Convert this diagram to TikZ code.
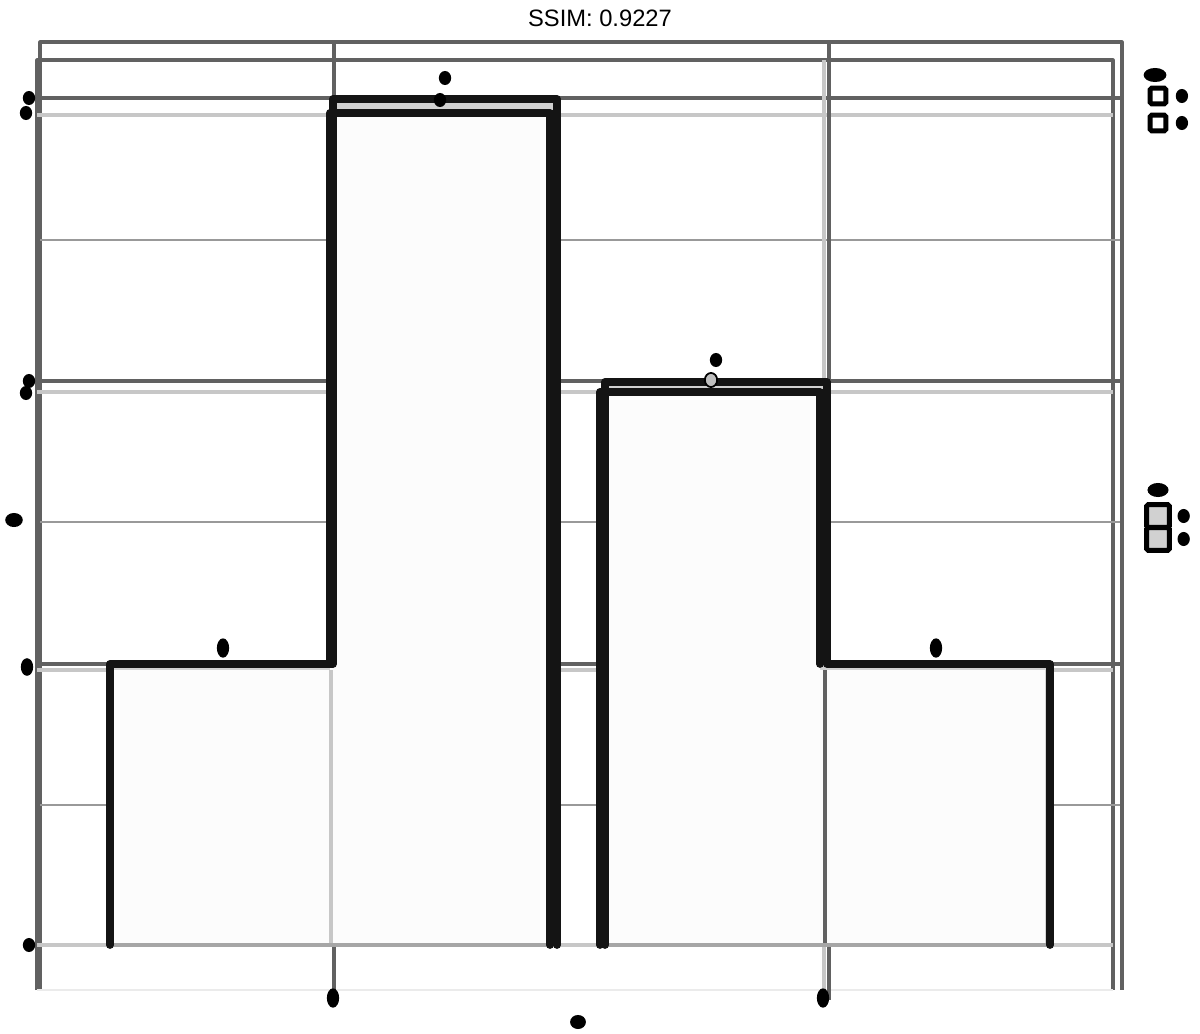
\documentclass[tikz,border=0pt]{standalone}
\usepackage{fontspec}
\setmainfont{Liberation Sans}
\usetikzlibrary{positioning,shapes.geometric}

\tikzset{
  majorA/.style={draw=black!62, line width=1.8pt},
  majorB/.style={draw=black!22, line width=1.8pt},
  minorA/.style={draw=black!40, line width=1.5pt},
  barline/.style={draw=black!92, line width=4.4pt, line join=round, line cap=round},
  baseline/.style={draw=black!35, line width=1.8pt},
  blob/.style={ellipse, fill=black, inner sep=0pt, minimum width=7pt, minimum height=8pt},
  keybox/.style={draw=black, line width=2.8pt, rounded corners=1pt, inner sep=0pt},
}

\begin{document}
\begin{tikzpicture}[x=0.02cm, y=-0.02cm]
    \useasboundingbox (0,0) rectangle (1200,1034);

    % Title
    \node (title) at (600,18) {\fontsize{13.5}{16}\selectfont SSIM: 0.9227};

    % Panel frames
    \draw[majorA, line join=round] (40,990) -- (40,42) -- (1122,42) -- (1122,990);
    \draw[majorA, line join=round] (37,990) -- (37,60) -- (1113,60) -- (1113,990);
    \draw[draw=black!8, line width=1.5pt] (37,990) -- (1113,990);

    % Grid lines
    \foreach \y in {240,522,805} \draw[minorA] (40,\y) -- (1120,\y);
    \foreach \y in {115,392,670,945} \draw[majorB] (37,\y) -- (1113,\y);
    \foreach \y in {98,381,664} \draw[majorA] (37,\y) -- (1120,\y);
    \draw[majorB] (824,60) -- (824,990);
    \draw[majorA] (334,42) -- (334,1000);
    \draw[majorA] (829,42) -- (829,1000);

    % Bar fills
    \fill[black!18] (110,945) -- (110,664) -- (333,664) -- (333,99) -- (557,99) -- (557,945) -- cycle;
    \fill[black!18] (605,945) -- (605,382) -- (827,382) -- (827,664) -- (1050,664) -- (1050,945) -- cycle;
    \fill[black!1] (107,945) -- (107,670) -- (330,670) -- (330,113) -- (550,113) -- (550,945) -- cycle;
    \fill[black!1] (600,945) -- (600,392) -- (820,392) -- (820,670) -- (1045,670) -- (1045,945) -- cycle;

    % Bar edges inside
    \draw[majorB] (331,670) -- (331,945);
    \draw[majorA] (825,670) -- (825,945);
    \draw[baseline] (110,945) -- (552,945);
    \draw[baseline] (603,945) -- (1047,945);

    % Bar outlines
    \draw[barline] (110,945) -- (110,664) -- (333,664) -- (333,99) -- (557,99) -- (557,945);
    \draw[barline] (330,664) -- (330,113) -- (550,113) -- (550,945);
    \draw[barline] (605,945) -- (605,382) -- (827,382) -- (827,664) -- (1050,664) -- (1050,945);
    \draw[barline] (600,945) -- (600,392) -- (820,392) -- (820,664);

    % Bar labels
    \node[blob] (lab2a) at (445,78) {};
    \node[blob] (lab2b) at (440,100) {};
    \node[blob] (lab3a) at (716,360) {};
    \node[blob, fill=black!25, draw=black, line width=1pt] (lab3b) at (711,380) {};
    \node[blob, minimum height=11pt] (lab1) at (223,648) {};
    \node[blob, minimum height=11pt] (lab4) at (936,648) {};

    % Axis labels
    \node[blob] (ya) at (29,98) {};
    \node[blob] (yb) at (26,113) {};
    \node[blob] (yc) at (29,381) {};
    \node[blob] (yd) at (26,393) {};
    \node[blob, minimum height=10pt] (ye) at (27,667) {};
    \node[blob] (yf) at (29,945) {};
    \node[blob, minimum width=10pt] (ytitle) at (14,520) {};
    \node[blob, minimum height=11pt] (xa) at (333,998) {};
    \node[blob, minimum height=11pt] (xb) at (823,998) {};
    \node[blob, minimum width=9pt] (xtitle) at (578,1022) {};

    % Legend: colour
    \node[blob, minimum width=13pt] (legA) at (1155,75) {};
    \node[keybox, minimum size=9pt, fill=white] (keyA1) at (1158,96) {};
    \node[keybox, minimum size=9pt, fill=white] (keyA2) at (1158,123) {};
    \node[blob, right=4pt of keyA1] (txtA1) {};
    \node[blob, right=4pt of keyA2] (txtA2) {};

    % Legend: fill
    \node[blob, minimum width=12pt] (legB) at (1158,490) {};
    \node[keybox, minimum width=13pt, minimum height=13pt, fill=black!18] (keyB1) at (1158,516) {};
    \node[keybox, minimum width=13pt, minimum height=13pt, fill=black!18] (keyB2) at (1158,539) {};
    \node[blob, right=3pt of keyB1] (txtB1) {};
    \node[blob, right=3pt of keyB2] (txtB2) {};

\end{tikzpicture}
\end{document}
